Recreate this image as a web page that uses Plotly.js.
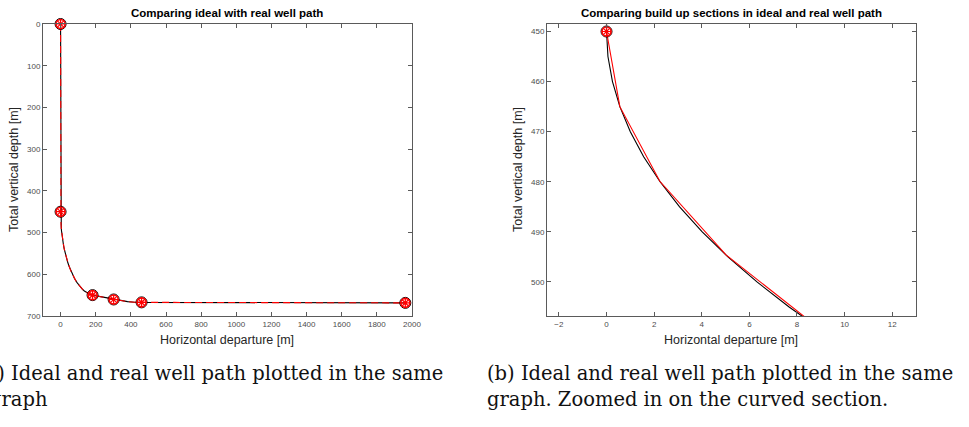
<!DOCTYPE html>
<html>
<head>
<meta charset="utf-8">
<script src="https://cdn.plot.ly/plotly-3.0.1.min.js"></script>
<style>
  html, body { margin: 0; padding: 0; background: #fff; }
  #chart { width: 969px; height: 427px; }
</style>
</head>
<body>
<div id="chart"></div>
<script>
// Ideal well path: vertical section, build-up arc, hold, second build, horizontal
const idealX = [0, 0, 0.06, 0.25, 0.56, 1.00, 1.56, 2.25, 3.07, 4.02, 5.10, 6.32, 7.67, 9.16,
  12.58, 16.61, 21.28, 26.64, 32.77, 39.75, 47.70, 56.77, 67.20, 79.34, 93.76, 111.55,
  122.4, 135.4, 152.3, 166.4, 181.0, 302, 342, 381, 421, 461, 1962];
const idealZ = [0, 450, 455, 460, 465, 470, 475, 480, 485, 490, 495, 500, 505, 510,
  520, 530, 540, 550, 560, 570, 580, 590, 600, 610, 620, 630,
  635, 640, 645, 648, 650, 660.4, 663.4, 665.6, 666.9, 667.3, 668.5];

// Real well path: survey stations joined by straight segments
const realX = [0, 0, 0.56, 2.24, 5.02, 8.89, 13.83, 19.82, 26.81, 34.77, 43.68, 53.44,
  64.03, 75.4, 87.4, 100.1, 113.3, 127.1, 141.2, 155.7, 170.4, 181.0, 302, 342, 381, 421, 461, 1962];
const realZ = [0, 450, 465.0, 479.9, 494.6, 509.1, 523.3, 537.0, 550.3, 563.0, 575.1, 586.5,
  597.1, 606.9, 615.8, 623.8, 630.9, 636.9, 641.9, 645.8, 648.7, 650, 660.4, 663.4, 665.6, 666.9, 667.3, 668.5];

// Section end points (kick-off, end of builds, holds, target)
const keyX = [0, 0, 182, 302, 461, 1962];
const keyZ = [0, 450, 650, 660.4, 667.3, 668.5];

const titleLeft = 'Comparing ideal with real well path';
const titleRight = 'Comparing build up sections in ideal and real well path';
const xLabel = 'Horizontal departure [m]';
const yLabel = 'Total vertical depth [m]';
const captionA1 = '(a) Ideal and real well path plotted in the same';
const captionA2 = 'graph';
const captionB1 = '(b) Ideal and real well path plotted in the same';
const captionB2 = 'graph. Zoomed in on the curved section.';

const W = 969, H = 427;
const px = v => v / W;
const py = v => 1 - v / H;

function markerTraces(xa, ya) {
  return [
    { x: keyX, y: keyZ, xaxis: xa, yaxis: ya, mode: 'markers', cliponaxis: false, hoverinfo: 'skip',
      marker: { symbol: 'circle-open', size: 11, color: '#000', line: { width: 1, color: '#000' } } },
    { x: keyX, y: keyZ, xaxis: xa, yaxis: ya, mode: 'markers', cliponaxis: false, hoverinfo: 'skip',
      marker: { symbol: 'circle-open', size: 9, color: '#ff0000', line: { width: 1.6, color: '#ff0000' } } },
    { x: keyX, y: keyZ, xaxis: xa, yaxis: ya, mode: 'markers', cliponaxis: false, hoverinfo: 'skip',
      marker: { symbol: 'asterisk-open', size: 8, color: '#ff0000', line: { width: 1.2, color: '#ff0000' } } }
  ];
}

const traces = [
  { x: idealX, y: idealZ, xaxis: 'x', yaxis: 'y', mode: 'lines', line: { color: '#000', width: 1.1 } },
  { x: realX, y: realZ, xaxis: 'x', yaxis: 'y', mode: 'lines', line: { color: '#ff0000', width: 1.1, dash: '7px,4px' } },
  ...markerTraces('x', 'y'),
  { x: idealX, y: idealZ, xaxis: 'x2', yaxis: 'y2', mode: 'lines', line: { color: '#000', width: 1.1 } },
  { x: realX, y: realZ, xaxis: 'x2', yaxis: 'y2', mode: 'lines', line: { color: '#ff0000', width: 1.1 } },
  ...markerTraces('x2', 'y2')
];

const tickFont = { family: 'Liberation Sans, Arial, sans-serif', size: 8, color: '#4d4d4d' };
const axisBase = {
  showgrid: false, zeroline: false, showline: true, linecolor: '#5a5a5a', linewidth: 1,
  mirror: 'ticks', ticks: 'inside', ticklen: 4, tickwidth: 1, tickcolor: '#5a5a5a',
  tickfont: tickFont
};

const labelFont = { family: 'Liberation Sans, Arial, sans-serif', size: 12.5, color: '#262626' };
const titleFont = { family: 'Liberation Sans, Arial, sans-serif', size: 11.5, color: '#000', weight: 'bold' };
const capFont = { family: 'DejaVu Serif, serif', size: 19.5, color: '#111' };

const layout = {
  width: W, height: H, autosize: false, showlegend: false,
  margin: { l: 0, r: 0, t: 0, b: 0, pad: 0 },
  paper_bgcolor: '#fff', plot_bgcolor: '#fff',
  xaxis: Object.assign({}, axisBase, { domain: [px(43), px(412)], range: [-100, 2000], dtick: 200, tick0: 0, anchor: 'y' }),
  yaxis: Object.assign({}, axisBase, { domain: [py(316), py(24)], range: [700, 0], dtick: 100, tick0: 0, anchor: 'x' }),
  xaxis2: Object.assign({}, axisBase, { domain: [px(547), px(916)], range: [-2.5, 13], dtick: 2, tick0: 0, anchor: 'y2' }),
  yaxis2: Object.assign({}, axisBase, { domain: [py(316), py(24)], range: [506.8, 448.5], dtick: 10, tick0: 450, anchor: 'x2' }),
  annotations: [
    { text: '<b>' + titleLeft + '</b>', x: px(227), y: py(13), xref: 'paper', yref: 'paper', showarrow: false, font: titleFont, xanchor: 'center', yanchor: 'middle' },
    { text: '<b>' + titleRight + '</b>', x: px(731), y: py(13), xref: 'paper', yref: 'paper', showarrow: false, font: titleFont, xanchor: 'center', yanchor: 'middle' },
    { text: xLabel, x: px(227), y: py(340), xref: 'paper', yref: 'paper', showarrow: false, font: labelFont, xanchor: 'center', yanchor: 'middle' },
    { text: xLabel, x: px(731), y: py(340), xref: 'paper', yref: 'paper', showarrow: false, font: labelFont, xanchor: 'center', yanchor: 'middle' },
    { text: yLabel, x: px(14), y: py(170), xref: 'paper', yref: 'paper', showarrow: false, font: labelFont, textangle: -90, xanchor: 'center', yanchor: 'middle' },
    { text: yLabel, x: px(518), y: py(170), xref: 'paper', yref: 'paper', showarrow: false, font: labelFont, textangle: -90, xanchor: 'center', yanchor: 'middle' },
    { text: captionA1, x: px(-24), y: py(373), xref: 'paper', yref: 'paper', showarrow: false, font: capFont, xanchor: 'left', yanchor: 'middle' },
    { text: captionA2, x: px(-13), y: py(399), xref: 'paper', yref: 'paper', showarrow: false, font: capFont, xanchor: 'left', yanchor: 'middle' },
    { text: captionB1, x: px(485), y: py(373), xref: 'paper', yref: 'paper', showarrow: false, font: capFont, xanchor: 'left', yanchor: 'middle' },
    { text: captionB2, x: px(485), y: py(399), xref: 'paper', yref: 'paper', showarrow: false, font: capFont, xanchor: 'left', yanchor: 'middle' }
  ]
};

Plotly.newPlot('chart', traces, layout, { staticPlot: true, displayModeBar: false });
</script>
</body>
</html>
